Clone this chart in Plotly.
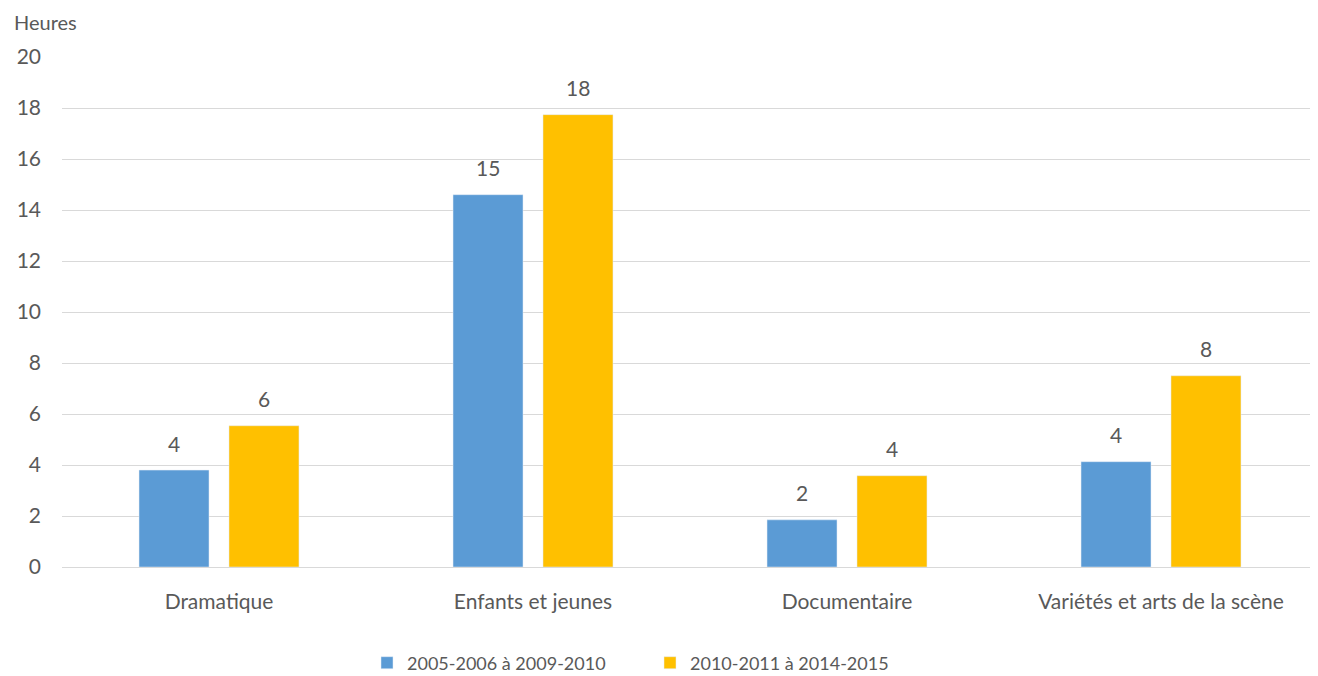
import plotly.graph_objects as go

categories = ["Dramatique", "Enfants et jeunes", "Documentaire", "Variétés et arts de la scène"]
series1_name = "2005-2006 à 2009-2010"
series2_name = "2010-2011 à 2014-2015"
series1 = [3.8, 14.6, 1.85, 4.13]
series2 = [5.54, 17.74, 3.58, 7.5]
y_ticks = [0, 2, 4, 6, 8, 10, 12, 14, 16, 18, 20]

FONT = "Lato"
FS = 21
TXT = "#595959"

fig = go.Figure()
fig.add_trace(go.Bar(x=categories, y=series1, name=series1_name, marker=dict(color="#5B9BD5")))
fig.add_trace(go.Bar(x=categories, y=series2, name=series2_name, marker=dict(color="#FFC000")))

annotations = [dict(text="Heures", xref="paper", yref="paper", x=-50/1256, y=1 + 49/510,
                    xanchor="left", yanchor="top", showarrow=False,
                    font=dict(family=FONT, size=20, color=TXT))]
for vals, shift in ((series1, -45), (series2, 45)):
    for c, v in zip(categories, vals):
        annotations.append(dict(text=f"{round(v):d}", x=c, y=v, xref="x", yref="y",
                                xshift=shift, yshift=27, yanchor="middle", showarrow=False,
                                font=dict(family=FONT, size=FS, color=TXT)))

fig.update_layout(
    width=1310, height=668,
    margin=dict(l=54, r=0, t=49, b=109, autoexpand=False),
    paper_bgcolor="white", plot_bgcolor="white",
    font=dict(family=FONT, size=FS, color=TXT),
    barmode="group", bargap=0.427, bargroupgap=0.222,
    showlegend=True,
    legend=dict(orientation="h", x=0.5 - 40/1256, xanchor="center", y=-96/510, yanchor="middle",
                font=dict(family=FONT, size=18, color=TXT),
                entrywidth=238, entrywidthmode="pixels", itemwidth=30),
    xaxis=dict(showgrid=False, showline=False, ticks="", ticklabelstandoff=20,
               tickfont=dict(family=FONT, size=FS, color=TXT)),
    yaxis=dict(range=[0, 20], tickvals=y_ticks, showgrid=True, gridcolor="#D9D9D9",
               gridwidth=1, zeroline=True, zerolinecolor="#D9D9D9", zerolinewidth=1,
               showline=False, ticks="", ticklabelstandoff=20,
               tickfont=dict(family=FONT, size=FS, color=TXT)),
    annotations=annotations,
)

fig.write_html("out.html")
